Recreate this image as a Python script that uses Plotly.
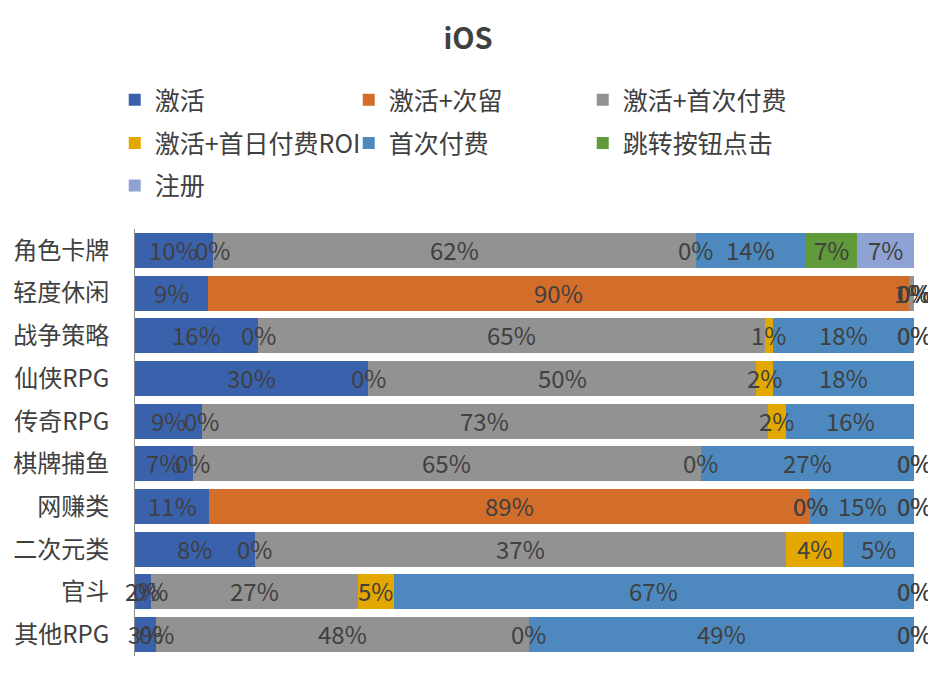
import plotly.graph_objects as go

categories = ["角色卡牌", "轻度休闲", "战争策略", "仙侠RPG", "传奇RPG",
              "棋牌捕鱼", "网赚类", "二次元类", "官斗", "其他RPG"]
series_names = ["激活", "激活+次留", "激活+首次付费", "激活+首日付费ROI",
                "首次付费", "跳转按钮点击", "注册"]

# raw values (percent); the chart stacks them to 100% per category
act       = [10.0, 9.4, 15.8, 30.0, 8.6, 7.4, 11.0, 8.3, 2.0, 2.7]
act_d2    = [0.0, 90.0, 0.0, 0.0, 0.0, 0.0, 89.0, 0.0, 0.0, 0.0]
act_pay   = [62.0, 0.6, 65.0, 50.0, 72.6, 65.0, 0.0, 36.8, 26.6, 47.8]
act_roi   = [0.0, 0.0, 1.0, 2.2, 2.4, 0.0, 0.0, 3.95, 4.6, 0.0]
first_pay = [14.1, 0.0, 18.1, 18.1, 16.4, 27.3, 15.4, 4.9, 66.8, 49.4]
jump      = [6.6, 0.0, 0.0, 0.0, 0.0, 0.0, 0.0, 0.0, 0.0, 0.0]
reg       = [7.3, 0.0, 0.0, 0.0, 0.0, 0.0, 0.0, 0.0, 0.0, 0.0]

series_values = [act, act_d2, act_pay, act_roi, first_pay, jump, reg]
colors = ["#3A62AC", "#D26D2A", "#929292", "#E3A800", "#4D89BE", "#609A3B", "#8FA2D4"]
legend_ids = ["legend", "legend", "legend", "legend2", "legend2", "legend2", "legend3"]

FONT = "Noto Sans CJK SC"
TXT = "#404040"

totals = [sum(s[i] for s in series_values) for i in range(len(categories))]
shares = [[v / totals[i] * 100 for i, v in enumerate(s)] for s in series_values]

fig = go.Figure()
for name, sh, col, lg in zip(series_names, shares, colors, legend_ids):
    fig.add_trace(go.Bar(
        y=categories, x=sh, name=name, orientation="h",
        marker=dict(color=col, line=dict(width=0)),
        textposition="none", legend=lg, hoverinfo="skip",
    ))

# data labels at segment centres (Excel-style, raw values shown)
for i, cat in enumerate(categories):
    cum = 0.0
    for s_raw, sh in zip(series_values, shares):
        fig.add_annotation(
            x=cum + sh[i] / 2, y=cat, xref="x", yref="y",
            text=f"{s_raw[i]:.0f}%", showarrow=False, yshift=1,
            font=dict(family=FONT, size=24, color=TXT),
        )
        cum += sh[i]

# page body has an 8px margin, so the figure is 8px smaller and shifted
W, H = 928, 670
leg_common = dict(orientation="h", xref="paper", yref="paper", x=-0.026,
                  xanchor="left", yanchor="middle", entrywidth=189,
                  entrywidthmode="pixels", traceorder="normal",
                  font=dict(family=FONT, size=25, color=TXT),
                  bgcolor="rgba(0,0,0,0)", itemclick=False)

fig.update_layout(
    width=W, height=H,
    margin=dict(l=127, r=22, t=221, b=22),
    barmode="stack", bargap=0.18,
    plot_bgcolor="white", paper_bgcolor="white",
    font=dict(family=FONT, size=24, color=TXT),
    title=dict(text="<b>iOS</b>", x=(468 - 8) / W, xref="container", xanchor="center",
               y=1 - 31 / H, yref="container", yanchor="middle",
               font=dict(family=FONT, size=29, color=TXT)),
    xaxis=dict(range=[0, 100], visible=False, fixedrange=True),
    yaxis=dict(autorange="reversed", showline=True, linecolor="#8C8C8C", linewidth=1,
               ticks="", ticklabelstandoff=20, showgrid=False, automargin=False,
               tickfont=dict(family=FONT, size=24, color=TXT)),
    legend=dict(**leg_common, y=1.302),
    legend2=dict(**leg_common, y=1.201),
    legend3=dict(**leg_common, y=1.101),
    showlegend=True,
)

fig.write_html("out.html")
